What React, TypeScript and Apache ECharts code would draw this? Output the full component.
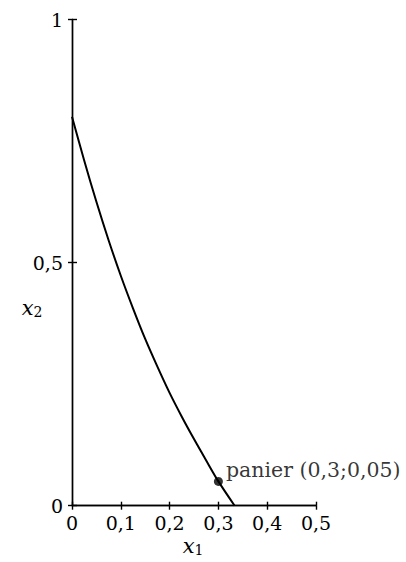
import React, { useEffect, useRef } from "react";
import * as echarts from "echarts";

const curveX = [0, 0.025, 0.05, 0.075, 0.1, 0.125, 0.15, 0.175, 0.2, 0.225, 0.25, 0.275, 0.3, 0.3333];
const curveY = [0.8, 0.71, 0.625, 0.546, 0.473, 0.406, 0.343, 0.286, 0.232, 0.183, 0.137, 0.093, 0.05, 0];
const basket = [0.3, 0.05];
const basketLabel = "panier (0,3;0,05)";

const FONT = "DejaVu Serif";
const fmt = (v: number) => String(Math.round(v * 100) / 100).replace(".", ",");

export default function App() {
  const ref = useRef<HTMLDivElement>(null);
  useEffect(() => {
    const chart = echarts.init(ref.current!, null, { renderer: "svg" });
    const gridBox = { left: 72, right: 90, top: 19.5, bottom: 56.3 };
    const labelStyle = { color: "#000", fontFamily: FONT, fontSize: 19 };
    const lineStyle = { color: "#000", width: 1.4 };
    const sub = {
      i: { fontFamily: FONT, fontStyle: "italic", fontSize: 21, color: "#000" },
      s: { fontFamily: FONT, fontSize: 14, color: "#000", padding: [8, 0, 0, 0] },
    };
    chart.setOption({
      animation: false,
      backgroundColor: "#fff",
      grid: [
        { ...gridBox, containLabel: false },
        { ...gridBox, containLabel: false },
      ],
      xAxis: [
        {
          type: "value", gridIndex: 0, min: 0, max: 0.5, interval: 0.1,
          axisLine: { show: true, onZero: false, lineStyle },
          axisTick: { show: true, length: 4, lineStyle },
          splitLine: { show: false },
          axisLabel: { ...labelStyle, margin: 8, formatter: (v: number) => fmt(v) },
        },
        {
          type: "value", gridIndex: 1, min: 0, max: 0.5, interval: 0.1,
          axisLine: { show: true, onZero: false, lineStyle },
          axisTick: { show: true, inside: true, length: 4, lineStyle },
          splitLine: { show: false },
          axisLabel: { show: false },
        },
      ],
      yAxis: [
        {
          type: "value", gridIndex: 0, min: 0, max: 1, interval: 0.5,
          axisLine: { show: true, onZero: false, lineStyle },
          axisTick: { show: true, length: 4, lineStyle },
          splitLine: { show: false },
          axisLabel: { ...labelStyle, margin: 9, formatter: (v: number) => fmt(v) },
        },
        {
          type: "value", gridIndex: 1, min: 0, max: 1, interval: 0.5,
          axisLine: { show: true, onZero: false, lineStyle },
          axisTick: { show: true, inside: true, length: 5, lineStyle },
          splitLine: { show: false },
          axisLabel: { show: false },
        },
      ],
      series: [
        {
          type: "line",
          xAxisIndex: 0, yAxisIndex: 0,
          data: curveX.map((x, i) => [x, curveY[i]]),
          smooth: 0.3,
          showSymbol: false,
          lineStyle: { color: "#000", width: 2 },
          silent: true,
        },
        {
          type: "scatter",
          xAxisIndex: 0, yAxisIndex: 0,
          data: [basket],
          symbol: "circle",
          symbolSize: 9,
          itemStyle: { color: "#000" },
          label: {
            show: true,
            position: "right",
            distance: 3,
            offset: [0, -11],
            formatter: basketLabel,
            color: "#000",
            fontFamily: FONT,
            fontSize: 20.5,
          },
          silent: true,
        },
      ],
      graphic: [
        {
          type: "text",
          x: 193, y: 546,
          style: {
            text: "{i|x}{s|1}",
            align: "center",
            verticalAlign: "middle",
            rich: sub,
          },
        },
        {
          type: "text",
          x: 32, y: 308,
          style: {
            text: "{i|x}{s|2}",
            align: "center",
            verticalAlign: "middle",
            rich: sub,
          },
        },
      ],
    });
    return () => chart.dispose();
  }, []);
  return (
    <div
      ref={ref}
      style={{ position: "fixed", left: 0, top: 0, width: 406, height: 562 }}
    />
  );
}
